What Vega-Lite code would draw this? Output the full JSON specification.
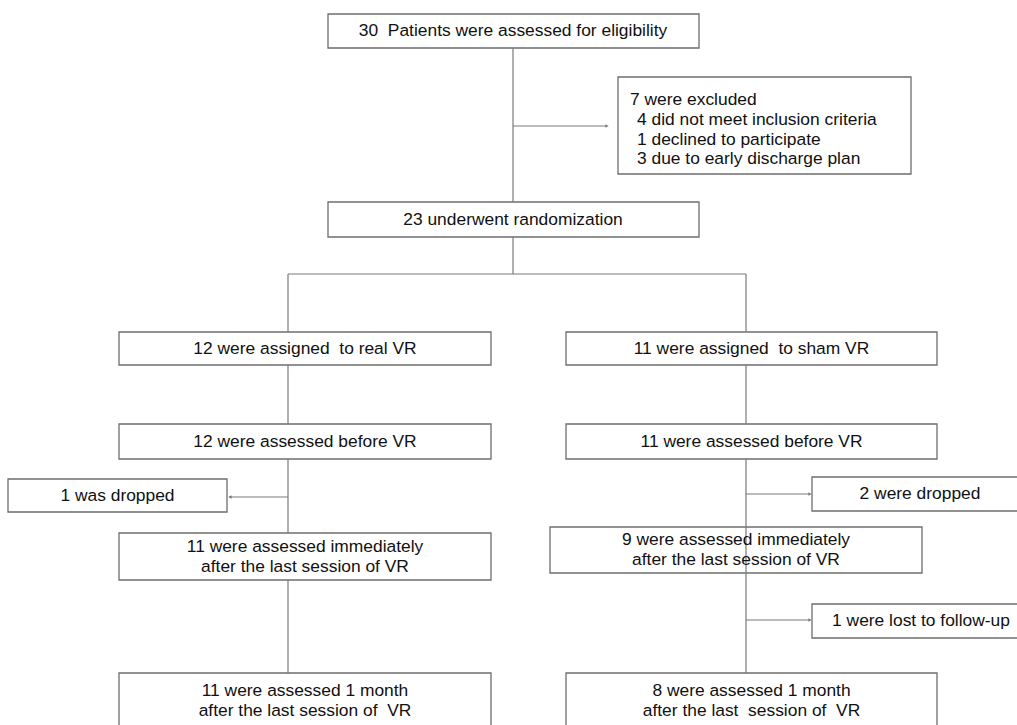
{
  "$schema": "https://vega.github.io/schema/vega-lite/v6.json",
  "width": 1017,
  "height": 725,
  "padding": 0,
  "autosize": {"type": "fit", "contains": "padding"},
  "background": "white",
  "config": {"view": {"stroke": null}},
  "datasets": {
    "boxes": [
      {"x1": 328, "x2": 699, "y1": 14, "y2": 48},
      {"x1": 618, "x2": 911, "y1": 77, "y2": 174},
      {"x1": 328, "x2": 699, "y1": 202, "y2": 237},
      {"x1": 119, "x2": 491, "y1": 332, "y2": 365},
      {"x1": 566, "x2": 937, "y1": 332, "y2": 365},
      {"x1": 119, "x2": 491, "y1": 424, "y2": 459},
      {"x1": 566, "x2": 937, "y1": 424, "y2": 459},
      {"x1": 8, "x2": 227, "y1": 479, "y2": 512},
      {"x1": 812, "x2": 1040, "y1": 477, "y2": 511},
      {"x1": 119, "x2": 491, "y1": 533, "y2": 580},
      {"x1": 550, "x2": 922, "y1": 527, "y2": 573},
      {"x1": 812, "x2": 1040, "y1": 604, "y2": 638},
      {"x1": 119, "x2": 491, "y1": 673, "y2": 760},
      {"x1": 566, "x2": 937, "y1": 673, "y2": 760}
    ],
    "lines": [
      {"x1": 513, "y1": 48, "x2": 513, "y2": 202},
      {"x1": 513, "y1": 126, "x2": 607, "y2": 126},
      {"x1": 513, "y1": 237, "x2": 513, "y2": 274},
      {"x1": 288, "y1": 274, "x2": 746, "y2": 274},
      {"x1": 288, "y1": 274, "x2": 288, "y2": 332},
      {"x1": 746, "y1": 274, "x2": 746, "y2": 332},
      {"x1": 288, "y1": 365, "x2": 288, "y2": 424},
      {"x1": 746, "y1": 365, "x2": 746, "y2": 424},
      {"x1": 288, "y1": 459, "x2": 288, "y2": 533},
      {"x1": 288, "y1": 497, "x2": 229, "y2": 497},
      {"x1": 746, "y1": 459, "x2": 746, "y2": 673},
      {"x1": 746, "y1": 494, "x2": 810, "y2": 494},
      {"x1": 288, "y1": 580, "x2": 288, "y2": 673},
      {"x1": 746, "y1": 620, "x2": 810, "y2": 620}
    ],
    "arrows": [
      {"x": 607, "y": 126, "dir": "right"},
      {"x": 230, "y": 497, "dir": "left"},
      {"x": 810, "y": 494, "dir": "right"},
      {"x": 810, "y": 620, "dir": "right"}
    ],
    "texts": [
      {"x": 513, "y": 31, "label": "30\u00a0 Patients were assessed for eligibility", "align": "center"},
      {"x": 630, "y": 100, "label": "7 were excluded", "align": "left"},
      {"x": 637, "y": 120, "label": "4 did not meet inclusion criteria", "align": "left"},
      {"x": 637, "y": 140, "label": "1 declined to participate", "align": "left"},
      {"x": 637, "y": 159, "label": "3 due to early discharge plan", "align": "left"},
      {"x": 513, "y": 219.5, "label": "23 underwent randomization", "align": "center"},
      {"x": 305, "y": 348.5, "label": "12 were assigned\u00a0 to real VR", "align": "center"},
      {"x": 751.5, "y": 348.5, "label": "11 were assigned\u00a0 to sham VR", "align": "center"},
      {"x": 305, "y": 441.5, "label": "12 were assessed before VR", "align": "center"},
      {"x": 751.5, "y": 441.5, "label": "11 were assessed before VR", "align": "center"},
      {"x": 117.5, "y": 495.5, "label": "1 was dropped", "align": "center"},
      {"x": 920, "y": 494, "label": "2 were dropped", "align": "center"},
      {"x": 305, "y": 547, "label": "11 were assessed immediately", "align": "center"},
      {"x": 305, "y": 567, "label": "after the last session of VR", "align": "center"},
      {"x": 736, "y": 540, "label": "9 were assessed immediately", "align": "center"},
      {"x": 736, "y": 560, "label": "after the last session of VR", "align": "center"},
      {"x": 921, "y": 621, "label": "1 were lost to follow-up", "align": "center"},
      {"x": 305, "y": 691, "label": "11 were assessed 1 month", "align": "center"},
      {"x": 305, "y": 711, "label": "after the last session of\u00a0 VR", "align": "center"},
      {"x": 751.5, "y": 691, "label": "8 were assessed 1 month", "align": "center"},
      {"x": 751.5, "y": 711, "label": "after the last\u00a0 session of\u00a0 VR", "align": "center"}
    ]
  },
  "layer": [
    {
      "data": {"name": "boxes"},
      "mark": {"type": "rect", "fill": "white", "stroke": "#6e6e6e", "strokeWidth": 1.3, "clip": true},
      "encoding": {
        "x": {"field": "x1", "type": "quantitative", "scale": {"domain": [0, 1017], "nice": false, "zero": false}, "axis": null},
        "x2": {"field": "x2"},
        "y": {"field": "y1", "type": "quantitative", "scale": {"domain": [0, 725], "nice": false, "zero": false, "reverse": true}, "axis": null},
        "y2": {"field": "y2"}
      }
    },
    {
      "data": {"name": "lines"},
      "mark": {"type": "rule", "stroke": "#7a7a7a", "strokeWidth": 1.2, "clip": true},
      "encoding": {
        "x": {"field": "x1", "type": "quantitative"},
        "x2": {"field": "x2"},
        "y": {"field": "y1", "type": "quantitative"},
        "y2": {"field": "y2"}
      }
    },
    {
      "data": {"name": "arrows"},
      "mark": {"type": "point", "filled": true, "color": "#7a7a7a", "size": 14, "opacity": 1},
      "encoding": {
        "x": {"field": "x", "type": "quantitative"},
        "y": {"field": "y", "type": "quantitative"},
        "shape": {"field": "dir", "type": "nominal", "scale": {"domain": ["right", "left"], "range": ["triangle-right", "triangle-left"]}, "legend": null}
      }
    },
    {
      "data": {"name": "texts"},
      "transform": [{"filter": "datum.align == 'center'"}],
      "mark": {"type": "text", "align": "center", "baseline": "middle", "font": "Liberation Sans", "fontSize": 17.4, "color": "#111111"},
      "encoding": {
        "x": {"field": "x", "type": "quantitative"},
        "y": {"field": "y", "type": "quantitative"},
        "text": {"field": "label"}
      }
    },
    {
      "data": {"name": "texts"},
      "transform": [{"filter": "datum.align == 'left'"}],
      "mark": {"type": "text", "align": "left", "baseline": "middle", "font": "Liberation Sans", "fontSize": 17.4, "color": "#111111"},
      "encoding": {
        "x": {"field": "x", "type": "quantitative"},
        "y": {"field": "y", "type": "quantitative"},
        "text": {"field": "label"}
      }
    }
  ]
}
